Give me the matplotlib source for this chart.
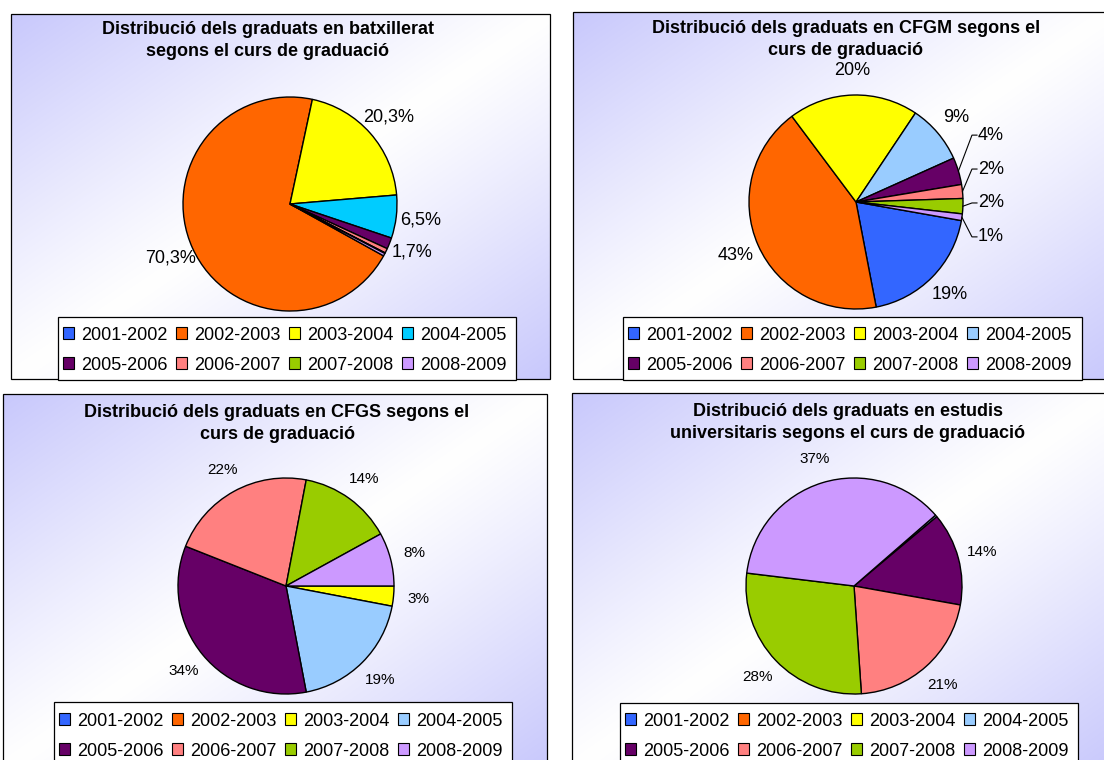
import numpy as np
import matplotlib.pyplot as plt
from matplotlib.patches import Rectangle, Patch

plt.rcParams['font.family'] = ['Liberation Sans', 'DejaVu Sans']

W, H = 1104, 760

# data (percentages per graduation year)
cursos = ['2001-2002', '2002-2003', '2003-2004', '2004-2005',
          '2005-2006', '2006-2007', '2007-2008', '2008-2009']
batxillerat = [0, 70.3, 20.3, 6.5, 1.7, 0.7, 0.1, 0.4]
cfgm = [19.2, 42.8, 19.6, 8.9, 4.1, 2.1, 2.3, 1.0]
cfgs = [0, 0, 3, 19, 34, 22, 14, 8]
universitaris = [0, 0, 0, 0.3, 13.9, 21.1, 28.0, 36.7]

titles = ['Distribució dels graduats en batxillerat\nsegons el curs de graduació',
          'Distribució dels graduats en CFGM segons el\ncurs de graduació',
          'Distribució dels graduats en CFGS segons el\ncurs de graduació',
          'Distribució dels graduats en estudis\nuniversitaris segons el curs de graduació']

colors_batx = ['#3366FF', '#FF6600', '#FFFF00', '#00CCFF',
               '#660066', '#FF8080', '#99CC00', '#CC99FF']
colors = ['#3366FF', '#FF6600', '#FFFF00', '#99CCFF',
          '#660066', '#FF8080', '#99CC00', '#CC99FF']

fig = plt.figure(figsize=(W / 100, H / 100), dpi=100)
ax = fig.add_axes([0, 0, 1, 1])


def bg_panel(x0, y0, x1, y1):
    # diagonal gradient lavender -> white -> lavender, with black frame
    ny, nx = 200, 300
    u = (np.linspace(0, 1, nx)[None, :] + np.linspace(0, 1, ny)[:, None]) / 2
    t = np.abs(2 * u - 1) ** 1.1
    lav = np.array([200, 200, 252]) / 255
    img = 1 - t[..., None] * (1 - lav)
    ax.imshow(img, extent=(x0, x1, H - y1, H - y0), origin='upper',
              interpolation='bilinear', zorder=0)
    ax.add_patch(Rectangle((x0, H - y1), x1 - x0, y1 - y0, fill=False,
                           edgecolor='black', lw=0.9, zorder=1))


def draw_pie(values, cols, cx, cy, r, start, fmt, fs):
    wedges, texts, autotexts = ax.pie(
        values, colors=cols, center=(cx, H - cy), radius=r,
        startangle=start, counterclock=False, autopct=fmt, pctdistance=1.23,
        wedgeprops=dict(edgecolor='black', linewidth=1.0),
        textprops=dict(fontsize=fs), frame=True)
    return wedges, autotexts


def add_legend(cols, x0, y0, x1, y1, row1):
    # white box with black frame, entries in 2 rows x 4 columns
    ax.add_patch(Rectangle((x0, H - y1), x1 - x0, y1 - y0, facecolor='white',
                           edgecolor='black', lw=0.9, zorder=3))
    handles = [Patch(facecolor=c, edgecolor='black', lw=0.8) for c in cols]
    order = [0, 4, 1, 5, 2, 6, 3, 7]
    fig.legend([handles[i] for i in order], [cursos[i] for i in order],
               loc='center left',
               bbox_to_anchor=((x0 + 5) / W, 1 - (row1 + 18) / H), ncol=4,
               fontsize=13, frameon=False, borderpad=0, labelspacing=0.72,
               handlelength=0.6, handleheight=0.6, handletextpad=0.4,
               columnspacing=0.48, borderaxespad=0)


fmt_dec = lambda p: f'{p:.1f}%'.replace('.', ',') if p >= 0.95 else ''
fmt_int = lambda p: f'{p:.0f}%' if p >= 0.95 else ''

# panels
bg_panel(11, 14, 550, 379)
bg_panel(573, 12, 1112, 379)
bg_panel(3, 394, 547, 770)
bg_panel(572, 393, 1112, 770)

ax.text(268, H - 40.5, titles[0], ha='center', va='center', fontsize=13,
        fontweight='bold', linespacing=1.35)
ax.text(846, H - 39.5, titles[1], ha='center', va='center', fontsize=13,
        fontweight='bold', linespacing=1.35)
ax.text(277, H - 423.5, titles[2], ha='center', va='center', fontsize=13,
        fontweight='bold', linespacing=1.35)
ax.text(848, H - 422.5, titles[3], ha='center', va='center', fontsize=13,
        fontweight='bold', linespacing=1.35)

draw_pie(batxillerat, colors_batx, 290, 204, 107, -29, fmt_dec, 13)

cx, cy, r = 856, 202, 107
wedges, autotexts = draw_pie(cfgm, colors, cx, cy, r, -10, fmt_int, 13)
# small slices: labels stacked on the right with leader lines
small = [i for i, v in enumerate(cfgm) if v < 5]
for k, i in enumerate(small):
    w = wedges[i]
    mid = np.deg2rad((w.theta1 + w.theta2) / 2)
    rx, ry = cx + r * np.cos(mid), (H - cy) + r * np.sin(mid)
    lx = cx + 1.14 * r
    ly = (H - cy) + r * (0.625 - 0.317 * k)
    autotexts[i].set_position((lx, ly))
    autotexts[i].set_ha('left')
    ax.plot([rx, lx - 6, lx - 1], [ry, ly, ly], color='black', lw=0.8)

draw_pie(cfgs, colors, 286, 586, 108, 0, fmt_int, 11)
draw_pie(universitaris, colors, 854, 586, 108, 41, fmt_int, 11)

add_legend(colors_batx, 58, 317, 516, 380, 332)
add_legend(colors, 623, 317, 1082, 380, 332)
add_legend(colors, 54, 702, 512, 775, 718)
add_legend(colors, 620, 703, 1078, 775, 718)

ax.set_xlim(0, W)
ax.set_ylim(0, H)
ax.axis('off')

fig.savefig('out.png', dpi=100)
